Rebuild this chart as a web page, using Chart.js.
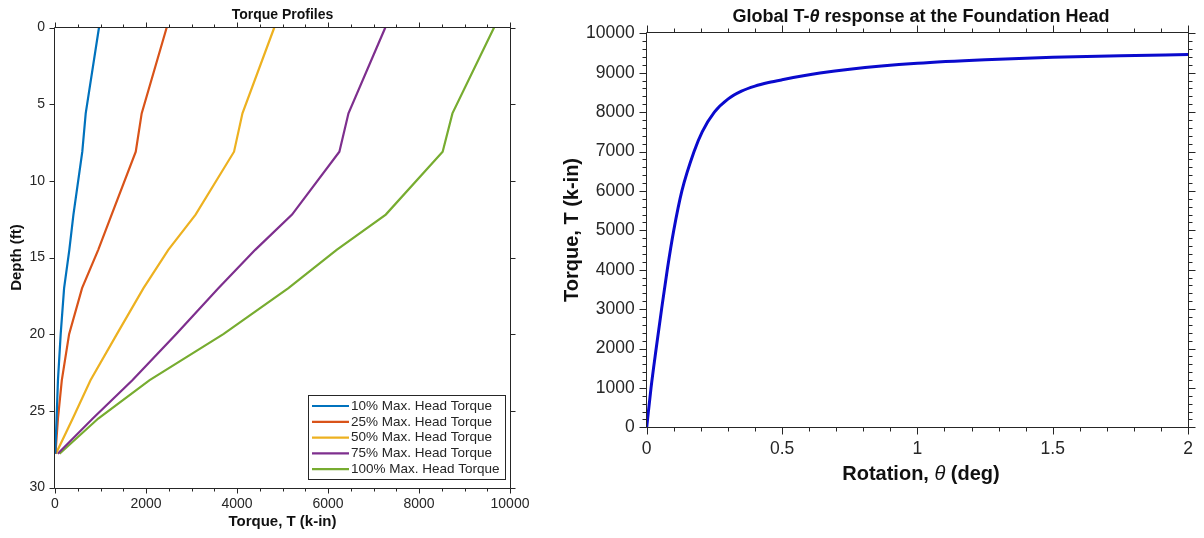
<!DOCTYPE html>
<html><head><meta charset="utf-8">
<script src="https://cdn.jsdelivr.net/npm/chart.js@4.4.0/dist/chart.umd.min.js"></script>
<style>
html,body{margin:0;padding:0;background:#fff;width:1204px;height:538px;overflow:hidden}
canvas{position:absolute;top:0}
#c1{left:0px}
#c2{left:545px}
</style></head><body>
<canvas id="c1" width="545" height="538"></canvas>
<canvas id="c2" width="659" height="538"></canvas>
<script>
// ---------- data: torque profiles (left) ----------
const depthFt   = [0, 5.6, 8.1, 12.2, 14.5, 17, 20, 23, 25.5, 27.8];
const torque10  = [967, 675, 600, 405, 315, 200, 125, 65, 35, 5];
const torque25  = [2455, 1905, 1775, 1245, 950, 595, 310, 150, 65, 10];
const torque50  = [4820, 4120, 3935, 3090, 2490, 1945, 1360, 780, 390, 20];
const torque75  = [7260, 6450, 6250, 5210, 4400, 3590, 2660, 1700, 830, 60];
const torque100 = [9650, 8735, 8520, 7270, 6190, 5130, 3700, 2080, 950, 100];
const profileLabels = ['10% Max. Head Torque', '25% Max. Head Torque', '50% Max. Head Torque', '75% Max. Head Torque', '100% Max. Head Torque'];
const profileColors = ['#0072BD', '#D95319', '#EDB120', '#7E2F8E', '#77AC30'];
const profileTicksX = [0, 2000, 4000, 6000, 8000, 10000];
const profileTicksY = [0, 5, 10, 15, 20, 25, 30];

// ---------- data: global T-theta response (right) ----------
const rotationDeg = [0, 0.016, 0.035, 0.055, 0.076, 0.1, 0.13, 0.175, 0.205, 0.25, 0.3, 0.35, 0.4, 0.45, 0.5, 0.64, 0.75, 1.0, 1.25, 1.5, 1.75, 2.0];
const headTorque  = [0, 1000, 2000, 3000, 4000, 5000, 6000, 7000, 7500, 8000, 8330, 8530, 8660, 8750, 8820, 8990, 9090, 9240, 9330, 9390, 9430, 9460];
const responseTicksX = [0, 0.5, 1, 1.5, 2];
const responseTicksY = [0, 1000, 2000, 3000, 4000, 5000, 6000, 7000, 8000, 9000, 10000];

const FONT = '"Liberation Sans", Arial, Helvetica, sans-serif';
const AX = '#262626';

const boxTicks = {
  id: 'boxTicks',
  afterDatasetsDraw(chart, args, o) {
    const {ctx, chartArea: a} = chart;
    const xs = chart.scales.x, ys = chart.scales.y;
    ctx.save();
    ctx.strokeStyle = AX; ctx.lineWidth = 1;
    const L = Math.round(a.left) - 0.5, R = Math.round(a.right) + 0.5;
    const T = Math.round(a.top) - 0.5, B = Math.round(a.bottom) + 0.5;
    ctx.beginPath();
    ctx.rect(L, T, R - L, B - T);
    const xt = (v, len) => { const p = Math.round(xs.getPixelForValue(v)) + 0.5; ctx.moveTo(p, B); ctx.lineTo(p, B + len); ctx.moveTo(p, T); ctx.lineTo(p, T - len); };
    const yt = (v, len) => { const p = Math.round(ys.getPixelForValue(v)) + 0.5; ctx.moveTo(L, p); ctx.lineTo(L - len, p); ctx.moveTo(R, p); ctx.lineTo(R + len, p); };
    xs.ticks.forEach(t => xt(t.value, o.major));
    ys.ticks.forEach(t => yt(t.value, o.major));
    if (o.xMinor) { const n = Math.round((xs.max - xs.min) / o.xMinor); for (let i = 0; i <= n; i++) xt(xs.min + i * o.xMinor, o.minor); }
    if (o.yMinor) { const n = Math.round((ys.max - ys.min) / o.yMinor); for (let i = 0; i <= n; i++) yt(ys.min + i * o.yMinor, o.minor); }
    ctx.stroke();
    ctx.restore();
  }
};

function drawParts(ctx, parts, x, y, rot) {
  ctx.save();
  ctx.translate(x, y);
  if (rot) ctx.rotate(rot);
  ctx.textBaseline = 'middle';
  ctx.textAlign = 'left';
  let w = 0;
  parts.forEach(p => { ctx.font = p.f; w += ctx.measureText(p.t).width; });
  let cx = -w / 2;
  parts.forEach(p => { ctx.font = p.f; ctx.fillStyle = p.c || '#111'; ctx.fillText(p.t, cx, 0); cx += ctx.measureText(p.t).width; });
  ctx.restore();
}

const texts = {
  id: 'texts',
  afterDraw(chart, args, o) {
    const ctx = chart.ctx;
    (o.items || []).forEach(it => drawParts(ctx, it.parts, it.x, it.y, it.rot));
  }
};

const boxLegend = {
  id: 'boxLegend',
  afterDraw(chart, args, o) {
    if (!o.show) return;
    const ctx = chart.ctx;
    ctx.save();
    ctx.fillStyle = '#fff';
    ctx.fillRect(o.x, o.y, o.w, o.h);
    ctx.strokeStyle = AX; ctx.lineWidth = 1;
    ctx.strokeRect(o.x + 0.5, o.y + 0.5, o.w, o.h);
    ctx.font = o.font; ctx.textBaseline = 'middle'; ctx.textAlign = 'left';
    chart.data.datasets.forEach((ds, i) => {
      const yy = o.y + o.first + i * o.step;
      ctx.strokeStyle = ds.borderColor; ctx.lineWidth = 2.2;
      ctx.beginPath(); ctx.moveTo(o.x + 4, yy); ctx.lineTo(o.x + 41, yy); ctx.stroke();
      ctx.fillStyle = AX;
      ctx.fillText(ds.label, o.x + 43, yy);
    });
    ctx.restore();
  }
};

Chart.register(boxTicks, texts, boxLegend);

// ---------- left chart ----------
const profileSeries = [torque10, torque25, torque50, torque75, torque100];
new Chart(document.getElementById('c1'), {
  type: 'line',
  data: {
    datasets: profileSeries.map((arr, i) => ({
      label: profileLabels[i],
      data: arr.map((t, j) => ({x: t, y: depthFt[j]})),
      borderColor: profileColors[i],
      borderWidth: 2.2,
      pointRadius: 0,
      tension: 0,
      fill: false
    }))
  },
  options: {
    responsive: false, animation: false, devicePixelRatio: 1,
    layout: {padding: {left: 0, right: 35, top: 27.5, bottom: 0}},
    plugins: {
      legend: {display: false}, tooltip: {enabled: false},
      boxTicks: {major: 5, minor: 3, xMinor: 500},
      boxLegend: {show: true, x: 308, y: 395, w: 197, h: 84, first: 11, step: 15.8, font: '13.5px ' + FONT},
      texts: {items: [
        {x: 282.5, y: 15, parts: [{t: 'Torque Profiles', f: 'bold 14px ' + FONT}]},
        {x: 282.5, y: 522, parts: [{t: 'Torque, T (k-in)', f: 'bold 15px ' + FONT}]},
        {x: 17, y: 257.5, rot: -Math.PI / 2, parts: [{t: 'Depth (ft)', f: 'bold 15px ' + FONT}]}
      ]}
    },
    scales: {
      x: {
        type: 'linear', position: 'bottom', min: 0, max: 10000,
        afterFit: s => { s.height = 50.5; },
        afterBuildTicks: s => { s.ticks = profileTicksX.map(v => ({value: v})); },
        grid: {display: false, drawTicks: false}, border: {display: false},
        ticks: {padding: 8, color: AX, font: {family: FONT, size: 14}, maxRotation: 0, autoSkip: false, callback: v => String(v)}
      },
      y: {
        type: 'linear', position: 'left', min: 0, max: 30, reverse: true,
        afterFit: s => { s.width = 55; },
        afterBuildTicks: s => { s.ticks = profileTicksY.map(v => ({value: v})); },
        grid: {display: false, drawTicks: false}, border: {display: false},
        ticks: {padding: 10, color: AX, font: {family: FONT, size: 14}, autoSkip: false, callback: v => String(v)}
      }
    }
  }
});

// ---------- right chart ----------
new Chart(document.getElementById('c2'), {
  type: 'line',
  data: {
    datasets: [{
      label: 'T-theta',
      data: rotationDeg.map((r, i) => ({x: r, y: headTorque[i]})),
      borderColor: 'rgb(10,10,205)',
      borderWidth: 3,
      pointRadius: 0,
      cubicInterpolationMode: 'monotone',
      fill: false
    }]
  },
  options: {
    responsive: false, animation: false, devicePixelRatio: 1,
    layout: {padding: {left: 0, right: 8, top: 33.3, bottom: 0}},
    plugins: {
      legend: {display: false}, tooltip: {enabled: false},
      boxTicks: {major: 7, minor: 4, xMinor: 0.1, yMinor: 200},
      boxLegend: {show: false},
      texts: {items: [
        {x: 376, y: 17, parts: [{t: 'Global T-', f: 'bold 18px ' + FONT}, {t: 'θ', f: 'italic bold 18px ' + FONT}, {t: ' response at the Foundation Head', f: 'bold 18px ' + FONT}]},
        {x: 376, y: 474, parts: [{t: 'Rotation, ', f: 'bold 20px ' + FONT}, {t: 'θ', f: 'italic 20px ' + FONT}, {t: ' (deg)', f: 'bold 20px ' + FONT}]},
        {x: 27, y: 230, rot: -Math.PI / 2, parts: [{t: 'Torque, T (k-in)', f: 'bold 20px ' + FONT}]}
      ]}
    },
    scales: {
      x: {
        type: 'linear', position: 'bottom', min: 0, max: 2,
        afterFit: s => { s.height = 110.7; },
        afterBuildTicks: s => { s.ticks = responseTicksX.map(v => ({value: v})); },
        grid: {display: false, drawTicks: false}, border: {display: false},
        ticks: {padding: 11, color: AX, font: {family: FONT, size: 17.5}, maxRotation: 0, autoSkip: false, callback: v => String(v)}
      },
      y: {
        type: 'linear', position: 'left', min: 0, max: 10000,
        afterFit: s => { s.width = 101.7; },
        afterBuildTicks: s => { s.ticks = responseTicksY.map(v => ({value: v})); },
        grid: {display: false, drawTicks: false}, border: {display: false},
        ticks: {padding: 12, color: AX, font: {family: FONT, size: 17.5}, autoSkip: false, callback: v => String(v)}
      }
    }
  }
});
</script>
</body></html>
